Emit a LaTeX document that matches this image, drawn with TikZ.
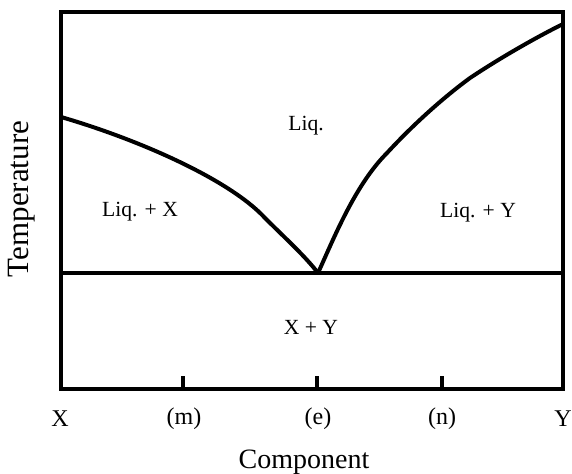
\documentclass[tikz,border=0pt]{standalone}
\usepackage{fontspec}
\setmainfont{Liberation Serif}
\usetikzlibrary{
    positioning,
    calc
}
\definecolor{ink}{RGB}{0,0,0}
\tikzset{
    line cap=butt,
    line join=miter,
    frame/.style={
        draw=ink,
        line width=2pt
    },
    liquidus/.style={
        draw=ink,
        line width=2pt,
        line join=round
    },
    tickmark/.style={
        draw=ink,
        line width=1.8pt
    },
    region/.style={
        font=\fontsize{10.8}{13}\selectfont,
        text=ink,
        inner sep=0pt
    },
    ticklabel/.style={
        font=\fontsize{12}{14}\selectfont,
        text=ink,
        inner sep=0pt
    },
    axislabel/.style={
        font=\fontsize{14}{16}\selectfont,
        text=ink,
        inner sep=0pt
    }
}

\begin{document}
\begin{tikzpicture}[x=0.5pt, y=-0.5pt]
\useasboundingbox (0,0) rectangle (572,474);

% Frame and eutectic line
\coordinate (tl) at (61,12);
\coordinate (br) at (563,389);
\draw[frame] (tl) rectangle (br);
\coordinate (eleft) at (61,273);
\coordinate (eright) at (563,273);
\coordinate (eut) at (318,273);
\draw[frame] (eleft) -- (eright);

% Liquidus curves
\draw[liquidus] (61,117) .. controls (140,140) and (230,180) .. (265,218)
    .. controls (285,238) and (305,256) .. (eut);
\draw[liquidus] (eut) .. controls (334,238) and (355,185) .. (387,153)
    .. controls (410,128) and (440,100) .. (470,78)
    .. controls (500,58) and (535,38) .. (563,24);

% Ticks
\foreach \x/\name in {183/m, 317/e, 442/n} {
    \coordinate (tick-\name) at (\x,389);
    \draw[tickmark] (tick-\name) -- ++(0,-13);
}

% Regions
\node[region] (liq) at (306,126) {Liq.};
\node[region] (liqx) at (140,212) {Liq. + X};
\node[region] (liqy) at (478,213) {Liq. + Y};
\node[region] (xy) at (311,327) {X + Y};

% Axis labels
\node[ticklabel] (lblX) at (60,419) {X};
\node[ticklabel] (lblm) at (184,419) {(m)};
\node[ticklabel] (lble) at (318,419) {(e)};
\node[ticklabel] (lbln) at (442,419) {(n)};
\node[ticklabel] (lblY) at (563,419) {Y};
\node[axislabel] (comp) at (304,462) {Component};
\node[axislabel, rotate=90, font=\fontsize{15.5}{18}\selectfont] (temp) at (22,199) {Temperature};
\end{tikzpicture}
\end{document}
